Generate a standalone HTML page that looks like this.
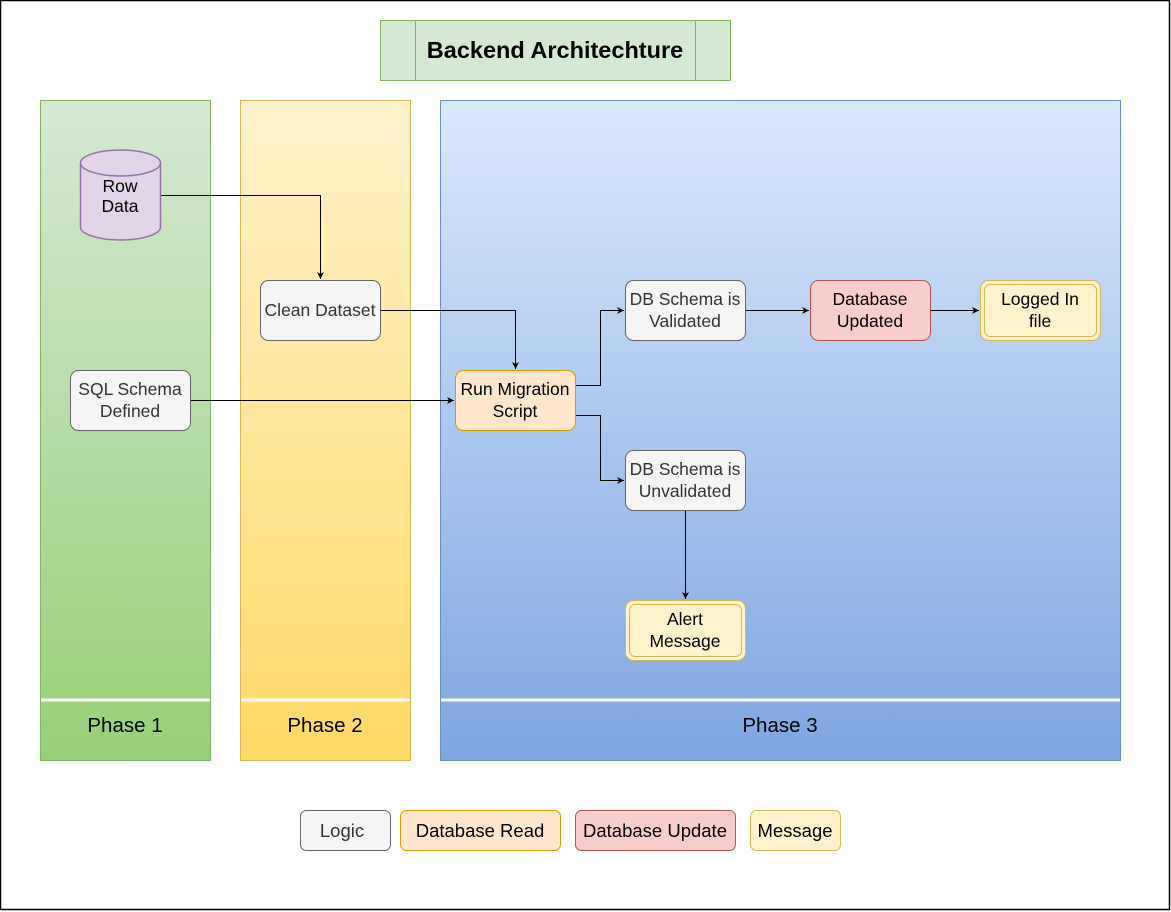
<!DOCTYPE html>
<html><head><meta charset="utf-8"><style>
html,body{margin:0;padding:0;background:#fff;}
svg{display:block;font-family:"Liberation Sans",Helvetica,Arial,sans-serif;}
</style></head><body>
<svg width="1171" height="912" viewBox="0 0 1171 912" xmlns="http://www.w3.org/2000/svg">
<defs>
<linearGradient id="gg" x1="0" y1="0" x2="0" y2="1"><stop offset="0" stop-color="#d5e8d4"/><stop offset="1" stop-color="#97d077"/></linearGradient>
<linearGradient id="gy" x1="0" y1="0" x2="0" y2="1"><stop offset="0" stop-color="#fff2cc"/><stop offset="1" stop-color="#ffd966"/></linearGradient>
<linearGradient id="gb" x1="0" y1="0" x2="0" y2="1"><stop offset="0" stop-color="#dae8fc"/><stop offset="1" stop-color="#7ea6e0"/></linearGradient>
<marker id="a" markerWidth="8" markerHeight="8" refX="7" refY="4" orient="auto" markerUnits="userSpaceOnUse"><path d="M0,0.5 L7,4 L0,7.5 L2,4 Z" fill="#000"/></marker>
</defs>
<rect x="0.5" y="0.5" width="1169" height="909" fill="#fff" stroke="#000" stroke-width="1.5"/>
<rect x="380.5" y="20.5" width="350" height="60" fill="#d5e8d4" stroke="#82b366"/>
<line x1="415.5" y1="20.5" x2="415.5" y2="80.5" stroke="#82b366"/>
<line x1="695.5" y1="20.5" x2="695.5" y2="80.5" stroke="#82b366"/>
<text x="555" y="58" font-size="23.5" font-weight="bold" text-anchor="middle">Backend Architechture</text>
<rect x="40.5" y="100.5" width="170" height="660" fill="url(#gg)" stroke="#82b366"/>
<rect x="240.5" y="100.5" width="170" height="660" fill="url(#gy)" stroke="#d6b656"/>
<rect x="440.5" y="100.5" width="680" height="660" fill="url(#gb)" stroke="#6c8ebf"/>
<line x1="41" y1="700" x2="210" y2="700" stroke="#fff" stroke-width="3"/>
<line x1="241" y1="700" x2="410" y2="700" stroke="#fff" stroke-width="3"/>
<line x1="441" y1="700" x2="1120" y2="700" stroke="#fff" stroke-width="3"/>
<g font-size="20.5" text-anchor="middle">
<text x="125" y="732">Phase 1</text>
<text x="325" y="732">Phase 2</text>
<text x="780" y="732">Phase 3</text>
</g>
<g fill="none" stroke="#000" stroke-width="1">
<path d="M160,195.5 H320.5 V279" marker-end="url(#a)"/>
<path d="M380,310.5 H515.5 V369" marker-end="url(#a)"/>
<path d="M190,400.5 H454" marker-end="url(#a)"/>
<path d="M575,385.5 H600.5 V310.5 H624" marker-end="url(#a)"/>
<path d="M575,415.5 H600.5 V480.5 H624" marker-end="url(#a)"/>
<path d="M745,310.5 H809" marker-end="url(#a)"/>
<path d="M930,310.5 H979" marker-end="url(#a)"/>
<path d="M685.5,510 V599" marker-end="url(#a)"/>
</g>
<path d="M80.5,163 V227 A40,13 0 0 0 160.5,227 V163" fill="#e1d5e7" stroke="#9673a6" stroke-width="1.5"/>
<ellipse cx="120.5" cy="163" rx="40" ry="13" fill="#e1d5e7" stroke="#9673a6" stroke-width="1.5"/>
<g font-size="17.5" text-anchor="middle" fill="#000">
<text x="120" y="192">Row</text><text x="120" y="212">Data</text>
</g>
<g stroke-width="1">
<rect x="260.5" y="280.5" width="120" height="60" rx="8" fill="#f5f5f5" stroke="#666"/>
<rect x="70.5" y="370.5" width="120" height="60" rx="8" fill="#f5f5f5" stroke="#666"/>
<rect x="455.5" y="370.5" width="120" height="60" rx="8" fill="#ffe6cc" stroke="#d79b00"/>
<rect x="625.5" y="280.5" width="120" height="60" rx="8" fill="#f5f5f5" stroke="#666"/>
<rect x="810.5" y="280.5" width="120" height="60" rx="8" fill="#f8cecc" stroke="#b85450"/>
<rect x="980.5" y="280.5" width="120" height="60" rx="8" fill="#fff2cc" stroke="#d6b656"/>
<rect x="984.5" y="284.5" width="112" height="52" rx="6" fill="none" stroke="#d6b656"/>
<rect x="625.5" y="450.5" width="120" height="60" rx="8" fill="#f5f5f5" stroke="#666"/>
<rect x="625.5" y="600.5" width="120" height="60" rx="8" fill="#fff2cc" stroke="#d6b656"/>
<rect x="629.5" y="604.5" width="112" height="52" rx="6" fill="none" stroke="#d6b656"/>
<rect x="300.5" y="810.5" width="90" height="40" rx="6" fill="#f5f5f5" stroke="#666"/>
<rect x="400.5" y="810.5" width="160" height="40" rx="6" fill="#ffe6cc" stroke="#d79b00"/>
<rect x="575.5" y="810.5" width="160" height="40" rx="6" fill="#f8cecc" stroke="#b85450"/>
<rect x="750.5" y="810.5" width="90" height="40" rx="6" fill="#fff2cc" stroke="#d6b656"/>
</g>
<g font-size="17.5" text-anchor="middle" fill="#333">
<text x="320" y="316">Clean Dataset</text>
<text x="130" y="395">SQL Schema</text><text x="130" y="417">Defined</text>
<text x="685" y="305">DB Schema is</text><text x="685" y="327">Validated</text>
<text x="685" y="475">DB Schema is</text><text x="685" y="497">Unvalidated</text>
</g>
<g font-size="17.5" text-anchor="middle" fill="#000">
<text x="515" y="395">Run Migration</text><text x="515" y="417">Script</text>
<text x="870" y="305">Database</text><text x="870" y="327">Updated</text>
<text x="1040" y="305">Logged In</text><text x="1040" y="327">file</text>
<text x="685" y="625">Alert</text><text x="685" y="647">Message</text>
</g>
<g font-size="18.5" text-anchor="middle" fill="#000">
<text x="342" y="837" fill="#333">Logic</text>
<text x="480" y="837">Database Read</text>
<text x="655" y="837">Database Update</text>
<text x="795" y="837">Message</text>
</g>
</svg>
</body></html>
